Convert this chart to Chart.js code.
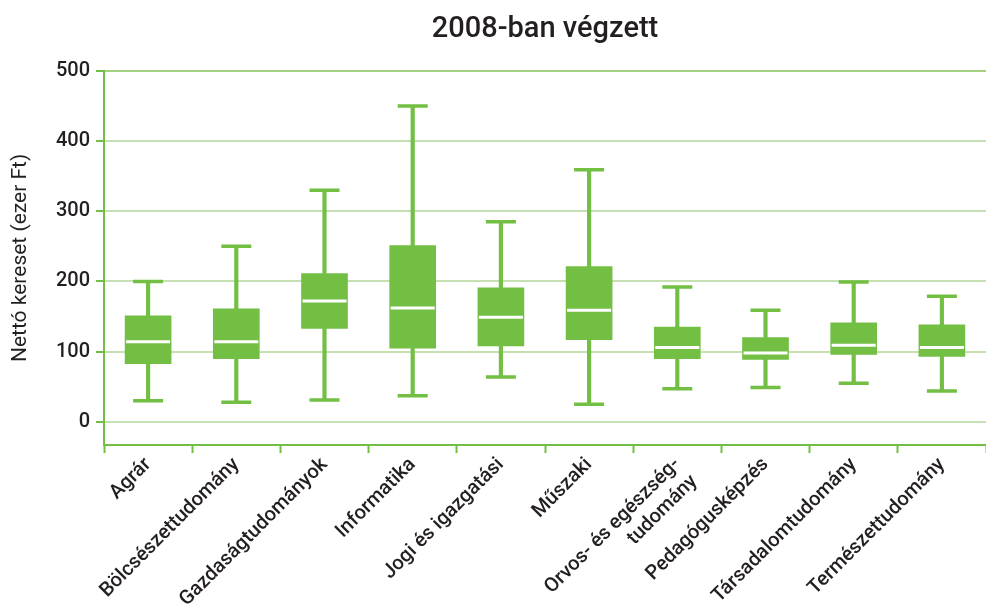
<!DOCTYPE html>
<html>
<head>
<meta charset="utf-8">
<script src="https://cdn.jsdelivr.net/npm/chart.js@4/dist/chart.umd.min.js"></script>
<style>
  body { margin: 0; background: #fff; }
  #wrap { width: 986px; height: 612px; }
</style>
</head>
<body>
<div id="wrap"><canvas id="boxChart"></canvas></div>
<script>
// Categories
const categories = ['Agrár', 'Bölcsészettudomány', 'Gazdaságtudományok', 'Informatika',
  'Jogi és igazgatási', 'Műszaki', ['Orvos- és egészség-', 'tudomány'], 'Pedagógusképzés',
  'Társadalomtudomány', 'Természettudomány'];

// Box plot values (ezer Ft)
const minValues = [30, 28, 31, 37, 64, 25, 47, 49, 55, 44];
const q1Values = [83, 90, 133, 105, 108, 117, 90, 89, 96, 93];
const medianValues = [114, 114, 172, 162, 149, 159, 106, 98, 109, 106];
const q3Values = [151, 161, 211, 251, 191, 221, 135, 120, 141, 138];
const maxValues = [200, 250, 330, 450, 285, 359, 192, 159, 199, 179];

// Y tick labels
const yTicks = [0, 100, 200, 300, 400, 500];

const green = '#72bf44';
const lightGreen = '#c6e0b2';
const textColor = '#231f20';

const whiskers = minValues.map((v, i) => [v, maxValues[i]]);
const boxes = q1Values.map((v, i) => [v, q3Values[i]]);

const chart = new Chart(document.getElementById('boxChart'), {
  type: 'bar',
  data: {
    labels: categories,
    datasets: [
      {
        label: 'median',
        type: 'line',
        data: medianValues,
        showLine: false,
        pointStyle: 'line',
        pointRadius: 22,
        pointBorderWidth: 3,
        pointBorderColor: '#ffffff',
        order: 0
      },
      {
        label: 'max',
        type: 'line',
        data: maxValues,
        showLine: false,
        pointStyle: 'line',
        pointRadius: 15,
        pointBorderWidth: 3.5,
        pointBorderColor: green,
        order: 1
      },
      {
        label: 'min',
        type: 'line',
        data: minValues,
        showLine: false,
        pointStyle: 'line',
        pointRadius: 15,
        pointBorderWidth: 3.5,
        pointBorderColor: green,
        order: 1
      },
      {
        label: 'box',
        data: boxes,
        backgroundColor: green,
        barThickness: 46,
        grouped: false,
        order: 2
      },
      {
        label: 'whisker',
        data: whiskers,
        backgroundColor: green,
        barThickness: 3.5,
        grouped: false,
        order: 3
      }
    ]
  },
  options: {
    responsive: true,
    maintainAspectRatio: false,
    animation: false,
    layout: { autoPadding: false, padding: { left: 8, right: 0, top: 0, bottom: 0 } },
    plugins: {
      legend: { display: false },
      tooltip: { enabled: false },
      title: {
        display: true,
        fullSize: false,
        text: '2008-ban végzett',
        color: textColor,
        font: { family: 'Roboto', size: 29, weight: '500' },
        padding: { top: 12, bottom: 24 }
      }
    },
    scales: {
      x: {
        offset: true,
        border: { color: green, width: 2 },
        afterFit: (scale) => {
          scale.height = 167;
          scale.paddingRight = 0;
          scale.paddingLeft = 0;
        },
        grid: {
          offset: true,
          drawOnChartArea: false,
          tickLength: 8,
          tickColor: green,
          tickWidth: 2
        },
        ticks: {
          color: textColor,
          font: { family: 'Roboto', size: 20, weight: '500' },
          minRotation: 45,
          maxRotation: 45,
          padding: 0
        }
      },
      y: {
        min: -33,
        max: 500,
        border: { color: green, width: 2 },
        afterBuildTicks: (scale) => {
          scale.ticks = yTicks.map(v => ({ value: v }));
        },
        afterFit: (scale) => { scale.width = 96; },
        grid: {
          color: (ctx) => ctx.tick && ctx.tick.value === 500 ? '#a3d183' : lightGreen,
          lineWidth: 2,
          tickLength: 8,
          tickColor: green,
          tickWidth: 2
        },
        ticks: {
          color: textColor,
          font: { family: 'Roboto', size: 20, weight: '500' },
          padding: 6
        },
        title: {
          display: true,
          text: 'Nettó kereset (ezer Ft)',
          color: textColor,
          font: { family: 'Roboto', size: 21 },
          padding: { top: 0, bottom: 4 }
        }
      }
    }
  }
});
</script>
</body>
</html>
